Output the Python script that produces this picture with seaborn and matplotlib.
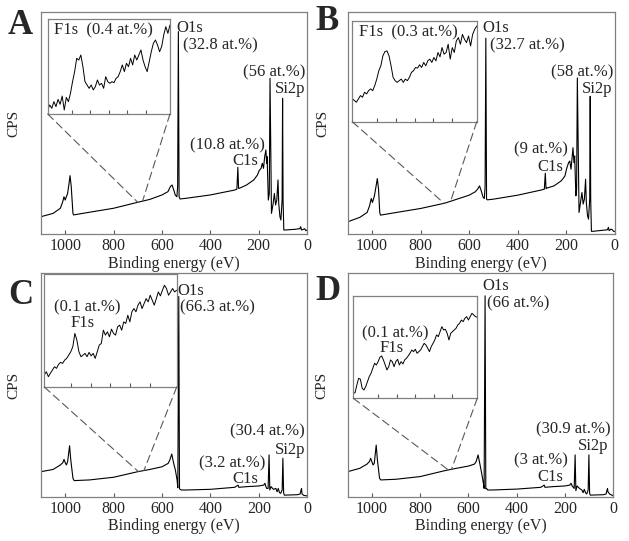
import numpy as np
import pandas as pd
import seaborn as sns
import matplotlib.pyplot as plt
from matplotlib.patches import ConnectionPatch

# survey spectra: binding energy (eV) and counts (arbitrary units, 0-100 scale)
a_ev = [1100, 1050, 1020, 1010, 1005, 1000, 990, 985, 980, 975, 968, 965, 900, 800, 700, 650, 600,
        575, 565, 558, 550, 545, 538, 535, 532, 529, 525, 500, 400, 300, 290, 286, 283, 280, 250,
        220, 205, 198, 190, 185, 180, 175, 170, 167, 165, 160, 156, 153, 147, 140, 135, 130, 125,
        120, 117, 112, 108, 103, 101, 99, 96, 90, 50, 30, 26, 23, 15, 10, 5, 0]
a_cps = [7.8, 9.3, 11.6, 14.6, 16.8, 15.3, 18.3, 22.1, 26.3, 21.4, 9.3, 8.6, 9.8, 11.6, 14.3, 15.6,
         17.6, 19.1, 21.4, 22.1, 19.5, 17.6, 16.8, 21.4, 91.3, 16.8, 15.8, 16.1, 17.6, 19.8, 20.2,
         30.1, 20.6, 20.6, 22.1, 24.4, 26.6, 28.6, 29.6, 31.9, 29.6, 34.9, 37.9, 31.9, 34.9, 15.3,
         18.3, 70.2, 9.3, 13.8, 18.3, 13.1, 15.3, 24.4, 13.8, 7.8, 6.3, 15.3, 61.2, 15.3, 1.8, 1.8,
         2.1, 2.4, 3.3, 1.8, 2.1, 2.4, 1.5, 1.8]

b_ev = [1100, 1050, 1020, 1010, 1003, 998, 990, 983, 978, 973, 968, 965, 900, 800, 700, 650, 600,
        575, 565, 557, 550, 542, 537, 534, 531, 528, 525, 500, 400, 300, 290, 286, 283, 280, 250,
        220, 205, 198, 190, 185, 180, 175, 172, 168, 165, 160, 157, 154, 147, 140, 135, 130, 125,
        120, 117, 112, 108, 103, 101, 99, 96, 90, 30, 26, 23, 15, 10, 5, 0]
b_cps = [5.5, 7.5, 9.7, 12.7, 16.0, 14.2, 17.2, 21.7, 25.0, 20.2, 9.7, 8.5, 9.7, 11.5, 13.9, 15.7,
         17.5, 19.0, 20.2, 21.7, 19.5, 16.5, 16.0, 21.7, 88.3, 15.7, 15.4, 15.7, 17.5, 19.9, 20.2,
         27.4, 20.5, 20.7, 21.7, 24.0, 26.2, 29.5, 32.2, 32.9, 29.2, 35.2, 38.9, 32.2, 35.2, 17.2,
         20.2, 70.4, 9.7, 15.0, 18.7, 13.5, 15.7, 24.7, 14.2, 8.2, 6.7, 15.7, 62.1, 15.7, 1.2, 1.2,
         1.9, 3.0, 1.5, 2.2, 1.9, 1.2, 1.2]

c_ev = [1100, 1050, 1020, 1010, 1005, 1000, 995, 990, 982, 977, 968, 963, 900, 800, 700, 650, 600,
        575, 568, 560, 552, 545, 538, 535, 531, 528, 525, 520, 500, 400, 300, 286, 283, 250, 200,
        180, 175, 172, 168, 162, 158, 155, 150, 140, 130, 125, 120, 115, 110, 104, 101, 98, 95, 90,
        40, 30, 24, 22, 15, 5, 0]
c_cps = [11.2, 12.2, 14.2, 15.2, 16.7, 15.2, 14.2, 15.7, 22.8, 16.4, 8.2, 7.2, 7.5, 8.7, 11.2, 12.2,
         13.4, 14.9, 16.4, 19.1, 14.9, 11.9, 7.5, 4.0, 89.6, 3.5, 3.3, 3.0, 3.0, 3.3, 4.2, 5.2, 4.2,
         4.5, 4.8, 5.2, 6.0, 4.8, 3.7, 3.7, 18.7, 3.0, 4.5, 3.3, 3.7, 2.2, 3.7, 1.8, 1.5, 3.0, 17.2,
         1.8, 0.7, 0.7, 0.9, 1.2, 3.7, 1.2, 0.6, 0.4, 0.4]

d_ev = [1100, 1050, 1020, 1010, 1005, 1000, 995, 990, 982, 977, 968, 963, 900, 800, 700, 650, 600,
        575, 568, 560, 553, 545, 538, 535, 531, 528, 525, 520, 500, 400, 300, 286, 283, 250, 200,
        180, 175, 170, 162, 158, 155, 150, 140, 130, 125, 120, 115, 110, 104, 101, 98, 95, 40, 30,
        24, 22, 15, 5, 0]
d_cps = [11.2, 12.7, 14.6, 15.7, 17.2, 15.7, 14.2, 14.9, 23.1, 16.4, 8.2, 7.5, 7.8, 9.0, 11.6, 12.7,
         13.7, 14.6, 15.7, 18.7, 14.9, 10.4, 6.0, 3.7, 89.9, 3.5, 3.7, 3.0, 3.0, 3.4, 4.2, 5.2, 4.2,
         4.5, 4.8, 5.2, 6.0, 4.8, 3.7, 18.7, 2.7, 4.8, 3.7, 3.0, 1.8, 3.3, 1.8, 1.2, 3.0, 18.7, 1.5,
         0.7, 0.9, 1.2, 3.7, 2.2, 1.2, 0.6, 0.6]

# F1s close-ups (counts on 0-100 scale, recorded from 700 to 680 eV)
a_f1s = [4.2, 9.5, 6.0, 13.0, 7.7, 15.4, 10.2, 18.9, 4.2, 17.5, 13.0, 21.8, 34.0, 44.6, 58.6, 56.8,
         62.1, 49.8, 34.0, 30.5, 27.0, 30.5, 25.3, 28.8, 35.8, 30.5, 32.3, 27.0, 39.3, 34.0, 32.3,
         34.0, 33.0, 37.5, 39.3, 44.6, 51.6, 44.6, 53.3, 49.8, 58.6, 51.6, 62.1, 56.8, 62.1, 67.4,
         56.8, 49.8, 44.6, 55.1, 65.6, 74.4, 77.9, 72.6, 65.6, 70.9, 83.2, 91.9, 84.9, 93.7]
b_f1s = [22.7, 21.1, 19.4, 22.7, 26.0, 24.3, 29.3, 27.6, 30.9, 32.6, 30.9, 35.9, 42.4, 50.7, 55.6,
         65.5, 69.7, 70.4, 65.5, 55.6, 44.1, 40.8, 39.1, 40.8, 42.4, 39.1, 42.4, 40.8, 44.1, 49.0,
         50.7, 53.9, 53.3, 56.6, 53.9, 58.9, 55.6, 60.5, 62.2, 58.9, 63.8, 60.5, 68.8, 64.5, 73.7,
         67.1, 68.8, 77.0, 62.2, 73.7, 68.8, 80.3, 83.6, 77.0, 86.8, 81.9, 78.6, 85.2, 75.3, 86.8,
         91.8, 95.1]
c_f1s = [10.6, 13.5, 9.1, 12.1, 15.0, 17.9, 16.5, 20.0, 21.8, 20.9, 23.8, 25.3, 28.2, 31.2, 35.6,
         47.4, 41.5, 31.2, 26.8, 28.2, 29.7, 26.8, 30.6, 27.6, 29.7, 25.3, 31.2, 37.1, 38.5, 50.3,
         45.9, 48.8, 44.4, 51.2, 47.4, 45.9, 53.2, 54.7, 50.3, 57.6, 56.2, 63.5, 57.6, 66.5, 69.4,
         66.5, 72.4, 75.3, 69.4, 73.8, 78.2, 75.3, 81.2, 76.8, 72.4, 78.2, 84.1, 80.6, 85.6, 90.0,
         87.1, 81.2, 84.1, 87.1, 84.1, 85.6]
d_f1s = [4.9, 5.5, 13.0, 19.5, 18.6, 9.8, 8.1, 11.4, 16.3, 21.2, 24.4, 29.3, 34.2, 32.6, 35.8, 40.1,
         41.4, 37.5, 32.6, 27.7, 30.9, 37.5, 35.8, 30.9, 35.8, 38.1, 32.6, 35.8, 33.6, 37.5, 39.1,
         41.4, 44.0, 47.2, 45.6, 47.9, 44.0, 45.6, 47.2, 50.5, 53.7, 52.1, 48.9, 45.6, 50.5, 53.7,
         57.0, 61.9, 60.3, 65.1, 70.0, 66.8, 67.4, 63.5, 57.0, 63.5, 65.1, 66.8, 68.4, 71.7, 73.3,
         76.5, 74.9, 78.2, 79.8, 76.5, 79.8, 83.1, 81.4, 79.8, 79.2]

panel_letters = ["A", "B", "C", "D"]
o1s_pct = ["(32.8 at.%)", "(32.7 at.%)", "(66.3 at.%)", "(66 at.%)"]
si_pct = ["(56 at.%)", "(58 at.%)", "(30.4 at.%)", "(30.9 at.%)"]
c1s_pct = ["(10.8 at.%)", "(9 at.%)", "(3.2 at.%)", "(3 at.%)"]
f1s_pct = ["(0.4 at.%)", "(0.3 at.%)", "(0.1 at.%)", "(0.1 at.%)"]
zoom_ends = [(700, 680), (703, 676), (698, 675), (683, 670)]

survey = [(a_ev, a_cps), (b_ev, b_cps), (c_ev, c_cps), (d_ev, d_cps)]
closeups = [a_f1s, b_f1s, c_f1s, d_f1s]

sns.set_style("ticks")
plt.rcParams['font.family'] = ['Liberation Serif', 'DejaVu Serif']

fig = plt.figure(figsize=(6.29, 5.41), dpi=100)

main_rects = [[0.0652, 0.5675, 0.4229, 0.4098], [0.5528, 0.5675, 0.4245, 0.4098],
              [0.0652, 0.0819, 0.4234, 0.4130], [0.5528, 0.0819, 0.4222, 0.4130]]
inset_rects = [[0.0758, 0.7893, 0.1944, 0.1756], [0.5601, 0.7750, 0.1978, 0.1860],
               [0.0704, 0.2847, 0.2105, 0.2089], [0.5617, 0.2638, 0.1971, 0.1891]]
letter_pos = [(0.0127, 0.952), (0.5008, 0.961), (0.0127, 0.4547), (0.5008, 0.462)]
# axes-fraction spots for the peak labels: O1s, O1s %, Si %, Si2p, C1s %, C1s
label_pos = [
    [(0.508, 0.927), (0.534, 0.850), (0.992, 0.728), (0.992, 0.652), (0.842, 0.399), (0.816, 0.327)],
    [(0.503, 0.927), (0.533, 0.850), (0.994, 0.728), (0.990, 0.652), (0.825, 0.381), (0.806, 0.304)],
    [(0.511, 0.919), (0.522, 0.847), (0.991, 0.292), (0.991, 0.211), (0.841, 0.149), (0.815, 0.081)],
    [(0.506, 0.941), (0.524, 0.865), (0.990, 0.301), (0.983, 0.229), (0.829, 0.162), (0.811, 0.090)],
]
ylab_x = [-0.077, -0.068, -0.077, -0.073]
frame = "0.5"
fs = 12

for i in range(4):
    ev, cps = survey[i]
    ax = fig.add_axes(main_rects[i])
    df = pd.DataFrame({"ev": ev, "cps": cps})
    sns.lineplot(data=df, x="ev", y="cps", ax=ax, color="black", lw=0.8, estimator=None)
    ax.set_xlim(1100, 0)
    ax.set_ylim(0, 100)
    ax.set_xticks(range(0, 1001, 200))
    ax.set_yticks([])
    ax.tick_params(axis="x", direction="in", length=3, width=0.8, color="0.35", pad=3,
                   labelsize=11.5, top=False)
    ax.tick_params(axis="y", left=False)
    for s in ax.spines.values():
        s.set_visible(True)
        s.set_color(frame)
        s.set_linewidth(0.9)
    ax.set_xlabel("Binding energy (eV)", fontsize=11.5, labelpad=1)
    ax.set_ylabel("CPS", fontsize=11)
    ax.yaxis.set_label_coords(ylab_x[i], 0.5)

    lp = label_pos[i]
    ax.text(*lp[0], "O1s", transform=ax.transAxes, fontsize=fs, ha="left", va="center")
    ax.text(*lp[1], o1s_pct[i], transform=ax.transAxes, fontsize=fs, ha="left", va="center")
    ax.text(*lp[2], si_pct[i], transform=ax.transAxes, fontsize=fs, ha="right", va="center")
    ax.text(*lp[3], "Si2p", transform=ax.transAxes, fontsize=fs, ha="right", va="center")
    ax.text(*lp[4], c1s_pct[i], transform=ax.transAxes, fontsize=fs, ha="right", va="center")
    ax.text(*lp[5], "C1s", transform=ax.transAxes, fontsize=fs, ha="right", va="center")

    fig.text(*letter_pos[i], panel_letters[i], fontsize=25, fontweight="bold",
             ha="left", va="center")

    # F1s close-up
    ins = fig.add_axes(inset_rects[i])
    f1s = closeups[i]
    dfi = pd.DataFrame({"ev": np.linspace(700, 680, len(f1s)), "cps": f1s})
    sns.lineplot(data=dfi, x="ev", y="cps", ax=ins, color="black", lw=0.7, estimator=None)
    ins.set_xlim(700, 680)
    ins.set_ylim(0, 100)
    ins.set_xticks([696, 693, 690, 687, 684])
    ins.set_yticks([])
    ins.set_xlabel("")
    ins.set_ylabel("")
    ins.tick_params(axis="x", direction="in", length=3, width=0.8, color="0.35",
                    labelbottom=False)
    ins.tick_params(axis="y", left=False)
    for s in ins.spines.values():
        s.set_visible(True)
        s.set_color(frame)
        s.set_linewidth(0.9)
    if i < 2:
        ins.text(0.05, 0.885, "F1s  " + f1s_pct[i], transform=ins.transAxes, fontsize=fs,
                 ha="left", va="center")
    else:
        cx = [0.326, 0.340][i - 2]
        ys = [(0.704, 0.562), (0.633, 0.487)][i - 2]
        ins.text(cx, ys[0], f1s_pct[i], transform=ins.transAxes, fontsize=fs,
                 ha="center", va="center")
        ins.text(cx - 0.035, ys[1], "F1s", transform=ins.transAxes, fontsize=fs,
                 ha="center", va="center")

    # dashed guides from the close-up to the spectrum
    ev_up = np.array(ev[::-1])
    cps_up = np.array(cps[::-1])
    for corner, e in zip([(0, 0), (1, 0)], zoom_ends[i]):
        y = np.interp(e, ev_up, cps_up)
        con = ConnectionPatch(xyA=corner, coordsA=ins.transAxes, xyB=(e, y),
                              coordsB=ax.transData, color="0.35", lw=0.8,
                              linestyle=(0, (7, 4)))
        fig.add_artist(con)

fig.savefig("out.png", dpi=100)
